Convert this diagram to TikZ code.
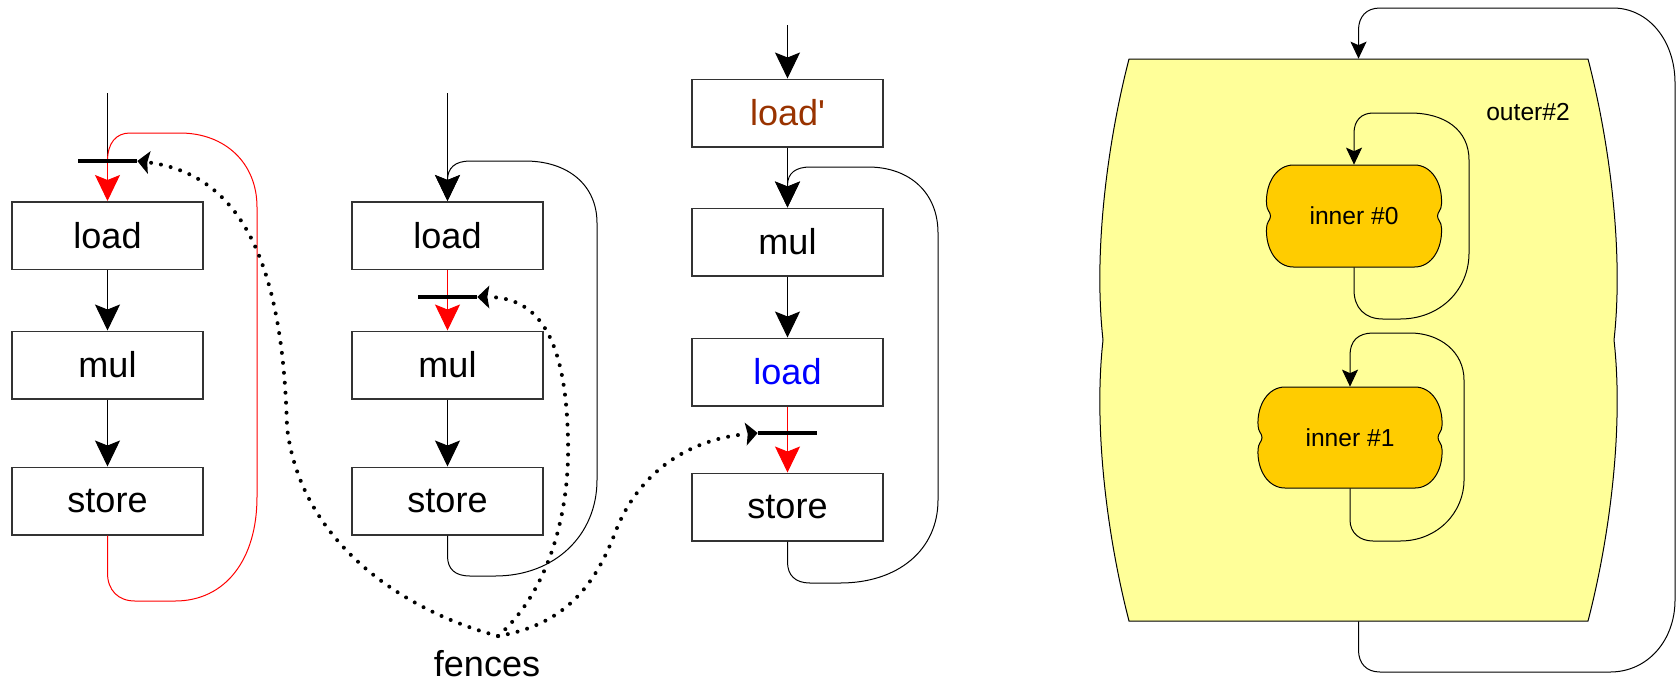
\documentclass[tikz,border=0pt]{standalone}
\usepackage{fontspec}
\setmainfont{Liberation Sans}
\usetikzlibrary{arrows.meta}
\definecolor{loadbrown}{HTML}{993300}
\definecolor{outeryellow}{HTML}{FFFF99}
\definecolor{innerorange}{HTML}{FFCC00}
\definecolor{boxgray}{HTML}{333333}

% rounded box with two bumps on each side: centre (#1,#2), half sizes #3, #4
\newcommand{\bumpbox}[4]{%
  \filldraw[fill=innerorange, draw=black, line width=0.2mm]
    (#1-#3+27,#2-#4) -- (#1+#3-27,#2-#4)
    .. controls (#1+#3-10,#2-#4) and (#1+#3+1,#2-#4+18) .. (#1+#3,#2-12)
    .. controls (#1+#3,#2-6) and (#1+#3-4,#2-4) .. (#1+#3-4,#2)
    .. controls (#1+#3-4,#2+4) and (#1+#3,#2+6) .. (#1+#3,#2+12)
    .. controls (#1+#3+1,#2+#4-18) and (#1+#3-10,#2+#4) .. (#1+#3-27,#2+#4)
    -- (#1-#3+27,#2+#4)
    .. controls (#1-#3+10,#2+#4) and (#1-#3-1,#2+#4-18) .. (#1-#3,#2+12)
    .. controls (#1-#3,#2+6) and (#1-#3+4,#2+4) .. (#1-#3+4,#2)
    .. controls (#1-#3+4,#2-4) and (#1-#3,#2-6) .. (#1-#3,#2-12)
    .. controls (#1-#3-1,#2-#4+18) and (#1-#3+10,#2-#4) .. (#1-#3+27,#2-#4) -- cycle;}

\begin{document}
\begin{tikzpicture}[x=0.2mm, y=-0.2mm,
  box/.style={draw=boxgray, line width=0.3mm, fill=white, minimum width=38.2mm,
    minimum height=13.5mm, inner sep=0pt, font=\fontsize{20.5}{24}\selectfont},
  fence/.style={fill=black, minimum width=11.8mm, minimum height=0.8mm, inner sep=0pt},
  flow/.style={line width=0.2mm, -{Stealth[length=5.2mm, width=5mm, inset=1mm]}},
  loopflow/.style={line width=0.2mm, -{Stealth[length=3.4mm, width=3.2mm, inset=0.7mm]}},
  fenceflow/.style={line width=0.8mm, dash pattern=on 0pt off 2mm, line cap=round,
    -{Stealth[length=2.4mm, width=4.6mm, inset=0.4mm, line width=0pt]}},
  tag/.style={font=\fontsize{14}{17}\selectfont, inner sep=0pt}]
  \useasboundingbox (0,0) rectangle (1677,683);

  % outer loop region
  \filldraw[fill=outeryellow, draw=black, line width=0.2mm]
    (1129,59) -- (1588,59)
    .. controls (1609,140) and (1624,250) .. (1614,340)
    .. controls (1624,430) and (1609,540) .. (1588,621)
    -- (1129,621)
    .. controls (1108,540) and (1093,430) .. (1103,340)
    .. controls (1093,250) and (1108,140) .. (1129,59) -- cycle;
  \node[minimum width=91.8mm, minimum height=112.4mm] (outer) at (1358.5,340) {};
  \node[tag] (outerlbl) at (1528,112) {outer\#2};
  \bumpbox{1354}{216}{87.5}{51}
  \bumpbox{1350}{437.5}{92}{50.5}
  \node[tag, minimum height=20.4mm] (inner0) at (1354,216) {inner \#0};
  \node[tag, minimum height=20.2mm] (inner1) at (1350,437.5) {inner \#1};

  % first sequence, fence before load
  \node[box] (ld1) at (107.5,235.5) {load};
  \node[box] (mu1) at (107.5,365) {mul};
  \node[box] (st1) at (107.5,501) {store};
  \coordinate (top1) at (107.5,93);
  \coordinate (f1) at (107.5,161);
  \draw[line width=0.2mm] (top1) -- (f1);
  \draw[flow, red] (f1) -- (ld1.north);
  \draw[flow] (ld1) -- (mu1);
  \draw[flow] (mu1) -- (st1);
  \draw[red, line width=0.2mm] (st1.south) -- (107.5,573)
    .. controls (107.5,590) and (118,601) .. (135,601) -- (175,601)
    .. controls (225,601) and (257,560) .. (257,497) -- (257,207)
    .. controls (257,163) and (225,133) .. (180,133) -- (130,133)
    .. controls (116,133) and (107.5,143) .. (f1);

  % second sequence, fence after load
  \node[box] (ld2) at (447.5,235.5) {load};
  \node[box] (mu2) at (447.5,365) {mul};
  \node[box] (st2) at (447.5,501) {store};
  \coordinate (top2) at (447.5,93);
  \coordinate (f2) at (447.5,297);
  \draw[flow] (top2) -- (ld2.north);
  \draw[flow, red] (ld2) -- (mu2);
  \draw[flow] (mu2) -- (st2);
  \draw[flow] (st2.south) -- (447.5,556)
    .. controls (447.5,569) and (455,576) .. (470,576) -- (495,576)
    .. controls (555,576) and (597,535) .. (597,480) -- (597,223)
    .. controls (597,185) and (568,161) .. (525,161) -- (470,161)
    .. controls (455,161) and (447.5,168) .. (447.5,180) -- (ld2.north);

  % third sequence, load hoisted out of the loop
  \node[box, text=loadbrown] (lp3) at (787.5,113) {load\textquotesingle};
  \node[box] (mu3) at (787.5,242) {mul};
  \node[box, text=blue] (ld3) at (787.5,372) {load};
  \node[box] (st3) at (787.5,507) {store};
  \coordinate (top3) at (787.5,25);
  \coordinate (f3) at (787.5,433);
  \draw[flow] (top3) -- (lp3);
  \draw[flow] (lp3) -- (mu3);
  \draw[flow] (mu3) -- (ld3);
  \draw[flow, red] (ld3) -- (st3);
  \draw[flow] (st3.south) -- (787.5,562)
    .. controls (787.5,575) and (795,583) .. (810,583) -- (840,583)
    .. controls (898,583) and (938,550) .. (938,500) -- (938,233)
    .. controls (938,193) and (910,167) .. (868,167) -- (810,167)
    .. controls (796,167) and (787.5,173) .. (787.5,185) -- (mu3.north);

  % fences
  \node[fence] (fb1) at (f1) {};
  \node[fence] (fb2) at (f2) {};
  \node[fence] (fb3) at (f3) {};
  \node[font=\fontsize{20.5}{24}\selectfont, inner sep=0pt] (fences) at (487,664) {fences};
  \coordinate (fsrc) at (498,636);
  \draw[fenceflow] (fsrc) .. controls (400,610) and (300,540) .. (287,427)
    .. controls (283,280) and (250,175) .. (fb1.east);
  \draw[fenceflow] (fsrc) .. controls (545,595) and (570,520) .. (568,440)
    .. controls (566,340) and (540,297) .. (fb2.east);
  \draw[fenceflow] (fsrc) .. controls (565,625) and (595,585) .. (615,533)
    .. controls (635,480) and (680,440) .. (fb3.west);

  % loop back edges of the nest
  \draw[loopflow] (outer.south) -- (1358.5,650)
    .. controls (1358.5,663) and (1366,672) .. (1380,672) -- (1610,672)
    .. controls (1648,672) and (1675,640) .. (1675,600) -- (1675,83)
    .. controls (1675,40) and (1648,8) .. (1613,8) -- (1380,8)
    .. controls (1366,8) and (1358.5,17) .. (1358.5,30) -- (outer.north);
  \draw[loopflow] (inner0.south) -- (1354,290)
    .. controls (1354,308) and (1365,319) .. (1383,319) -- (1400,319)
    .. controls (1440,319) and (1469,290) .. (1469,253) -- (1469,160)
    .. controls (1469,130) and (1445,113) .. (1410,113) -- (1373,113)
    .. controls (1361,113) and (1354,121) .. (1354,133) -- (inner0.north);
  \draw[loopflow] (inner1.south) -- (1350,520)
    .. controls (1350,533) and (1360,541) .. (1373,541) -- (1400,541)
    .. controls (1438,541) and (1464,512) .. (1464,480) -- (1464,380)
    .. controls (1464,352) and (1440,333) .. (1410,333) -- (1373,333)
    .. controls (1358,333) and (1350,341) .. (1350,355) -- (inner1.north);
\end{tikzpicture}
\end{document}
